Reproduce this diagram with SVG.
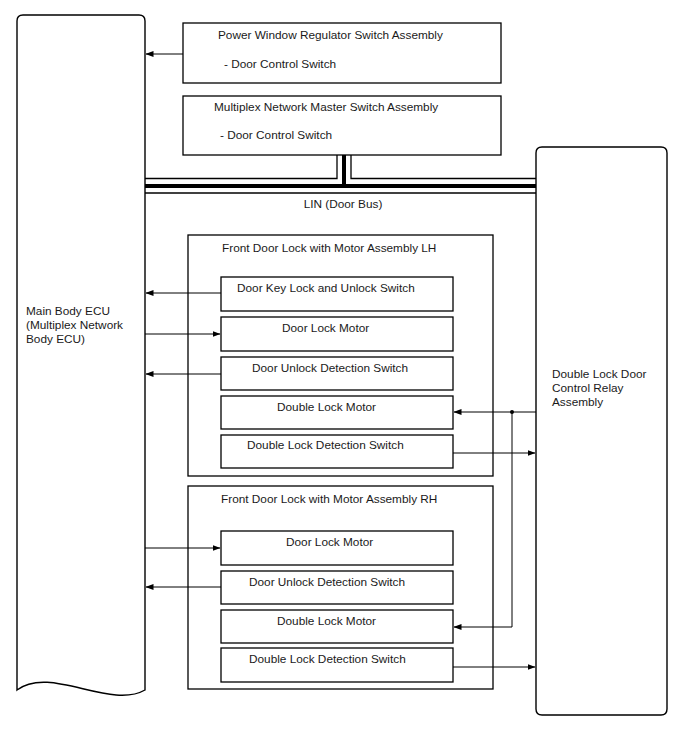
<svg xmlns="http://www.w3.org/2000/svg" width="688" height="755" viewBox="0 0 688 755">
<defs>
<marker id="ah" markerWidth="8" markerHeight="6" refX="7.5" refY="3" orient="auto" markerUnits="userSpaceOnUse">
<path d="M0,0 L8,3 L0,6 z" fill="#000"/>
</marker>
<style>
.box{fill:#fff;stroke:#000;stroke-width:1.3}
.big{fill:none;stroke:#000;stroke-width:1.4}
.t{font-family:"Liberation Sans",Arial,sans-serif;font-size:11.8px;fill:#1a1a1a}
.c{fill:none;stroke:#000;stroke-width:1}
.ca{fill:none;stroke:#000;stroke-width:1;marker-end:url(#ah)}
.bus{fill:none;stroke:#000;stroke-width:4}
.thin{fill:none;stroke:#000;stroke-width:1.3}
</style>
</defs>
<rect width="688" height="755" fill="#fff"/>

<g id="main-ecu">
<path class="big" d="M17,690 L17,21 Q17,15 23,15 L139,15 Q145,15 145,21 L145,690 C110,710 50,665 17,690 Z" fill="#fff"/>
<text class="t" x="26" y="315">Main Body ECU</text>
<text class="t" x="26" y="329">(Multiplex Network</text>
<text class="t" x="26" y="343">Body ECU)</text>
</g>

<g id="relay">
<path class="big" d="M542,147 L661,147 Q667,147 667,153 L667,709 Q667,715 661,715 L542,715 Q536,715 536,709 L536,153 Q536,147 542,147 Z" fill="#fff"/>
<text class="t" x="552" y="378">Double Lock Door</text>
<text class="t" x="552" y="392">Control Relay</text>
<text class="t" x="552" y="406">Assembly</text>
</g>

<g id="pw-switch">
<rect class="box" x="183" y="23" width="318" height="60"/>
<text class="t" x="218" y="39">Power Window Regulator Switch Assembly</text>
<text class="t" x="224" y="68">- Door Control Switch</text>
</g>

<g id="master-switch">
<rect class="box" x="183" y="96" width="318" height="59"/>
<text class="t" x="214" y="111">Multiplex Network Master Switch Assembly</text>
<text class="t" x="220" y="139">- Door Control Switch</text>
</g>

<g id="lh">
<rect class="box" x="188" y="235" width="305" height="241"/>
<text class="t" x="222" y="252">Front Door Lock with Motor Assembly LH</text>
</g>
<g id="lh-key">
<rect class="box" x="221" y="277" width="232" height="34"/>
<text class="t" x="237" y="292">Door Key Lock and Unlock Switch</text>
</g>
<g id="lh-lock-motor">
<rect class="box" x="221" y="317" width="232" height="34"/>
<text class="t" x="282" y="332">Door Lock Motor</text>
</g>
<g id="lh-unlock-sw">
<rect class="box" x="221" y="357" width="232" height="33"/>
<text class="t" x="252" y="372">Door Unlock Detection Switch</text>
</g>
<g id="lh-dl-motor">
<rect class="box" x="221" y="396" width="232" height="33"/>
<text class="t" x="277" y="411">Double Lock Motor</text>
</g>
<g id="lh-dl-sw">
<rect class="box" x="221" y="435" width="232" height="33"/>
<text class="t" x="247" y="449">Double Lock Detection Switch</text>
</g>

<g id="rh">
<rect class="box" x="188" y="486" width="305" height="203"/>
<text class="t" x="221" y="503">Front Door Lock with Motor Assembly RH</text>
</g>
<g id="rh-lock-motor">
<rect class="box" x="221" y="531" width="232" height="34"/>
<text class="t" x="286" y="546">Door Lock Motor</text>
</g>
<g id="rh-unlock-sw">
<rect class="box" x="221" y="571" width="232" height="33"/>
<text class="t" x="249" y="586">Door Unlock Detection Switch</text>
</g>
<g id="rh-dl-motor">
<rect class="box" x="221" y="610" width="232" height="33"/>
<text class="t" x="277" y="625">Double Lock Motor</text>
</g>
<g id="rh-dl-sw">
<rect class="box" x="221" y="648" width="232" height="34"/>
<text class="t" x="249" y="663">Double Lock Detection Switch</text>
</g>

<g id="connectors">
<path class="thin" d="M145,178.5 L337,178.5 L337,155"/>
<path class="thin" d="M351,155 L351,178.5 L536,178.5"/>
<path class="bus" d="M344,155 L344,186"/>
<path class="bus" d="M145,186 L536,186"/>
<path class="thin" d="M145,193 L536,193"/>
<text class="t" x="343" y="208" text-anchor="middle">LIN (Door Bus)</text>

<path class="ca" d="M183,54 L146,54"/>
<path class="ca" d="M221,293 L146,293"/>
<path class="ca" d="M145,334 L220,334"/>
<path class="ca" d="M221,374 L146,374"/>
<path class="ca" d="M536,412 L454,412"/>
<path class="ca" d="M512,412 L512,627 L454,627"/>
<circle cx="512" cy="412" r="2" fill="#000"/>
<path class="ca" d="M453,453 L535,453"/>
<path class="ca" d="M145,548 L220,548"/>
<path class="ca" d="M221,587 L146,587"/>
<path class="ca" d="M453,667 L535,667"/>
</g>
</svg>
